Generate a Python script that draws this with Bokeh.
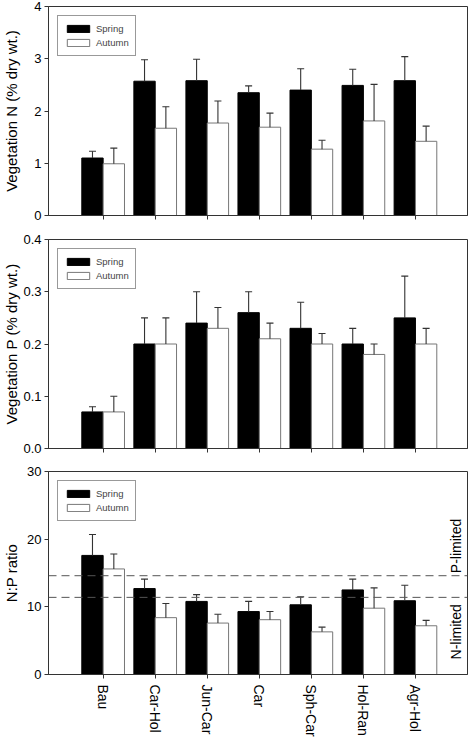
import numpy as np
from bokeh.plotting import figure
from bokeh.layouts import column
from bokeh.models import (ColumnDataSource, Whisker, TeeHead, FixedTicker, Span,
                          Label, Legend, LegendItem, Range1d)
from bokeh.embed import file_html
from bokeh.resources import INLINE

# ---------------- data ----------------
categories = ["Bau", "Car-Hol", "Jun-Car", "Car", "Sph-Car", "Hol-Ran", "Agr-Hol"]
seasons = ["Spring", "Autumn"]

n_spring = [1.10, 2.57, 2.58, 2.35, 2.40, 2.49, 2.58]
n_spring_err = [0.13, 0.41, 0.41, 0.13, 0.41, 0.31, 0.46]
n_autumn = [0.99, 1.67, 1.77, 1.69, 1.27, 1.81, 1.42]
n_autumn_err = [0.30, 0.41, 0.42, 0.27, 0.17, 0.70, 0.29]

p_spring = [0.07, 0.20, 0.24, 0.26, 0.23, 0.20, 0.25]
p_spring_err = [0.01, 0.05, 0.06, 0.04, 0.05, 0.03, 0.08]
p_autumn = [0.07, 0.20, 0.23, 0.21, 0.20, 0.18, 0.20]
p_autumn_err = [0.03, 0.05, 0.04, 0.03, 0.02, 0.02, 0.03]

np_spring = [17.6, 12.7, 10.8, 9.3, 10.3, 12.5, 10.9]
np_spring_err = [3.1, 1.4, 1.0, 1.5, 1.2, 1.6, 2.3]
np_autumn = [15.6, 8.4, 7.6, 8.1, 6.3, 9.8, 7.2]
np_autumn_err = [2.2, 2.1, 1.3, 1.2, 0.7, 3.0, 0.8]

n_ticks = [0, 1, 2, 3, 4]
n_tick_labels = ["0", "1", "2", "3", "4"]
p_ticks = [0.0, 0.1, 0.2, 0.3, 0.4]
p_tick_labels = ["0.0", "0.1", "0.2", "0.3", "0.4"]
np_ticks = [0, 10, 20, 30]
np_tick_labels = ["0", "10", "20", "30"]

thresholds = [14.6, 11.4]
zone_labels = ["P-limited", "N-limited"]
zone_label_y = [19.0, 6.3]

# ---------------- style ----------------
FONT = "Liberation Sans"
AX = "#333333"
BW = 0.41
W = 468
FRAME_H = 209

x = np.arange(1, len(categories) + 1, dtype=float)


def panel(spring, s_err, autumn, a_err, ticks, tick_labels, title,
          top, bottom, show_x, title_standoff):
    ymax = ticks[-1]
    p = figure(width=W, height=top + FRAME_H + bottom,
               x_range=Range1d(-0.05, 8.0), y_range=Range1d(0, ymax),
               output_backend="svg", toolbar_location=None,
               min_border_left=0, min_border_right=1,
               min_border_top=top, min_border_bottom=bottom)
    p.xgrid.visible = False
    p.ygrid.visible = False
    p.outline_line_color = AX
    p.outline_line_width = 1
    p.background_fill_color = "white"

    s_src = ColumnDataSource(dict(xs=x - BW / 2, v=spring,
                                  up=np.array(spring) + np.array(s_err)))
    a_src = ColumnDataSource(dict(xs=x + BW / 2, v=autumn,
                                  up=np.array(autumn) + np.array(a_err)))
    r1 = p.vbar(x="xs", top="v", bottom=0, width=BW, source=s_src,
                fill_color="black", line_color="black", line_width=1)
    r2 = p.vbar(x="xs", top="v", bottom=0, width=BW, source=a_src,
                fill_color="white", line_color="#777777", line_width=1)
    for src in (s_src, a_src):
        wh = Whisker(source=src, base="xs", lower="v", upper="up",
                     line_color=AX, line_width=1.1,
                     upper_head=TeeHead(size=7, line_color=AX, line_width=1.1),
                     lower_head=None, level="annotation")
        p.add_layout(wh)

    # axes
    p.xaxis.ticker = FixedTicker(ticks=list(x))
    p.xaxis.major_tick_out = 4
    p.xaxis.major_tick_in = 0
    p.xaxis.minor_tick_line_color = None
    p.xaxis.axis_line_color = AX
    p.xaxis.major_tick_line_color = AX
    if show_x:
        p.xaxis.major_label_overrides = {float(xi): c for xi, c in zip(x, categories)}
        p.xaxis.major_label_orientation = "vertical"
        p.xaxis.major_label_text_font = FONT
        p.xaxis.major_label_text_font_size = "14px"
        p.xaxis.major_label_text_color = "black"
        p.xaxis.major_label_standoff = 6
    else:
        p.xaxis.major_label_overrides = {float(xi): "" for xi in x}

    p.yaxis.ticker = FixedTicker(ticks=ticks)
    p.yaxis.major_label_overrides = {t: l for t, l in zip(ticks, tick_labels)}
    p.yaxis.major_label_text_font = FONT
    p.yaxis.major_label_text_font_size = "13px"
    p.yaxis.major_label_text_color = "black"
    p.yaxis.major_tick_out = 4
    p.yaxis.major_tick_in = 0
    p.yaxis.major_label_standoff = 3
    p.yaxis.minor_tick_line_color = None
    p.yaxis.axis_line_color = AX
    p.yaxis.major_tick_line_color = AX
    p.yaxis.axis_label = title
    p.yaxis.axis_label_text_font = FONT
    p.yaxis.axis_label_text_font_size = "15px"
    p.yaxis.axis_label_text_font_style = "normal"
    p.yaxis.axis_label_text_color = "black"
    p.yaxis.axis_label_standoff = title_standoff

    legend = Legend(items=[LegendItem(label=seasons[0], renderers=[r1]),
                           LegendItem(label=seasons[1], renderers=[r2])],
                    location="top_left")
    legend.margin = 9
    legend.padding = 6
    legend.spacing = 1
    legend.glyph_width = 28
    legend.glyph_height = 9
    legend.label_height = 13
    legend.label_standoff = 4
    legend.label_text_font = FONT
    legend.label_text_font_size = "9.5px"
    legend.border_line_color = AX
    legend.border_line_width = 1
    legend.background_fill_color = "white"
    legend.background_fill_alpha = 1
    p.add_layout(legend)
    return p


p1 = panel(n_spring, n_spring_err, n_autumn, n_autumn_err, n_ticks, n_tick_labels,
           "Vegetation N (% dry wt.)", 6, 12, False, 11)
p2 = panel(p_spring, p_spring_err, p_autumn, p_autumn_err, p_ticks, p_tick_labels,
           "Vegetation P (% dry wt.)", 12, 12, False, 0)
p3 = panel(np_spring, np_spring_err, np_autumn, np_autumn_err, np_ticks, np_tick_labels,
           "N:P ratio", 11, 59, True, 4)

for t in thresholds:
    p3.add_layout(Span(location=t, dimension="width", line_color="#555555",
                       line_width=1, line_dash="8 5"))
for lab, yy in zip(zone_labels, zone_label_y):
    p3.add_layout(Label(x=7.78, y=yy, text=lab, angle=np.pi / 2,
                        text_align="center", text_baseline="middle",
                        text_font=FONT, text_font_size="14px", text_color="black"))

layout = column(p1, p2, p3)
open("out.html", "w").write(file_html(layout, INLINE))
